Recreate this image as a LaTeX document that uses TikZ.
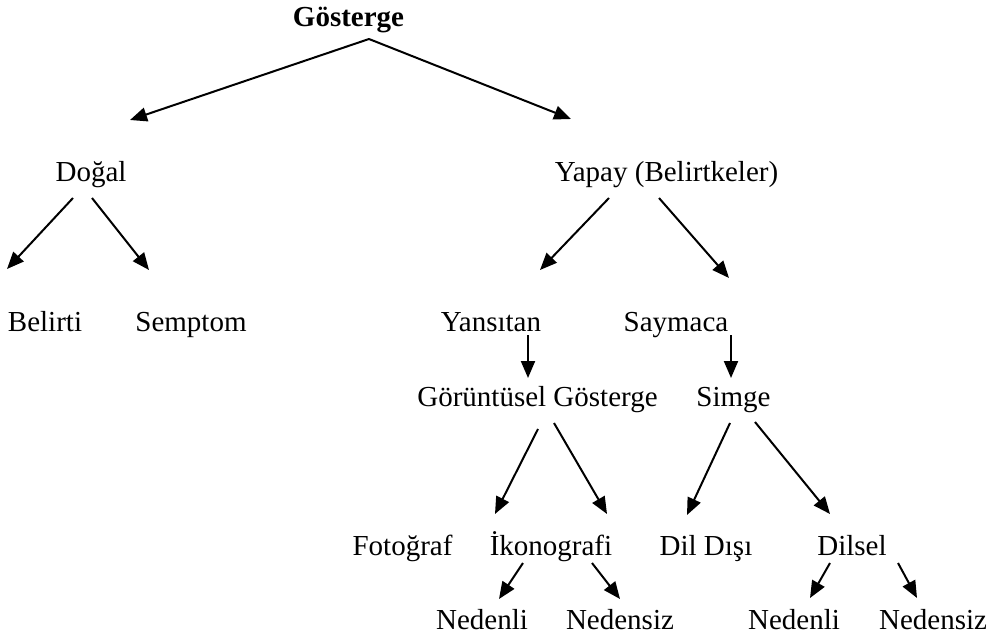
\documentclass[tikz,border=0pt]{standalone}
\usepackage{fontspec}
\setmainfont{Liberation Serif}
\usetikzlibrary{arrows.meta}
\tikzset{
  lbl/.style={anchor=base, inner sep=0pt, outer sep=0pt, font=\fontsize{29}{34}\selectfont},
  arr/.style={line width=2pt, -{Triangle[length=17pt,width=14pt]}}
}
\begin{document}
\begin{tikzpicture}[x=1pt,y=-1pt]
\useasboundingbox (0,0) rectangle (992,639);
% labels
\node[lbl, font=\fontsize{29}{34}\selectfont\bfseries] (g) at (348.5,27) {Gösterge};
\node[lbl] (dogal) at (91,182) {Doğal};
\node[lbl] (yapay) at (666.5,182) {Yapay (Belirtkeler)};
\node[lbl] (belirti) at (45,331) {Belirti};
\node[lbl] (semptom) at (191,331) {Semptom};
\node[lbl] (yansitan) at (491,331) {Yansıtan};
\node[lbl] (saymaca) at (676,331) {Saymaca};
\node[lbl] (goruntusel) at (537.5,406) {Görüntüsel Gösterge};
\node[lbl] (simge) at (733.5,406) {Simge};
\node[lbl] (fotograf) at (402.5,555) {Fotoğraf};
\node[lbl] (ikonografi) at (551,555) {İkonografi};
\node[lbl] (dildisi) at (706,555) {Dil Dışı};
\node[lbl] (dilsel) at (852,555) {Dilsel};
\node[lbl] (nedenliA) at (482,629) {Nedenli};
\node[lbl] (nedensizA) at (620,629) {Nedensiz};
\node[lbl] (nedenliB) at (794,629) {Nedenli};
\node[lbl] (nedensizB) at (933,629) {Nedensiz};
% connector ends
\coordinate (g-s) at (369,39);
\coordinate (dogal-t) at (130,120);
\coordinate (yapay-t) at (571,119);
\coordinate (dogal-s1) at (73,198);
\coordinate (dogal-s2) at (92,198);
\coordinate (belirti-t) at (7,269);
\coordinate (semptom-t) at (149,270);
\coordinate (yapay-s1) at (609,198);
\coordinate (yapay-s2) at (659,198);
\coordinate (yansitan-t) at (540,270);
\coordinate (saymaca-t) at (729,278);
\coordinate (yansitan-s) at (528,335);
\coordinate (goruntusel-t) at (528,378);
\coordinate (saymaca-s) at (731,335);
\coordinate (simge-t) at (731,378);
\coordinate (goruntusel-s1) at (538,429);
\coordinate (goruntusel-s2) at (554,423);
\coordinate (fotograf-t) at (495,514);
\coordinate (ikonografi-t) at (607,514);
\coordinate (simge-s1) at (730,423);
\coordinate (simge-s2) at (755,422);
\coordinate (dildisi-t) at (687,515);
\coordinate (dilsel-t) at (830,514);
\coordinate (ikonografi-s1) at (523,563);
\coordinate (ikonografi-s2) at (592,563);
\coordinate (nedenliA-t) at (499,599);
\coordinate (nedensizA-t) at (620,599);
\coordinate (dilsel-s1) at (830,563);
\coordinate (dilsel-s2) at (898,563);
\coordinate (nedenliB-t) at (810,598);
\coordinate (nedensizB-t) at (917,598);
% connectors
\draw[arr] (g-s) -- (dogal-t);
\draw[arr] (g-s) -- (yapay-t);
\draw[arr] (dogal-s1) -- (belirti-t);
\draw[arr] (dogal-s2) -- (semptom-t);
\draw[arr] (yapay-s1) -- (yansitan-t);
\draw[arr] (yapay-s2) -- (saymaca-t);
\draw[arr] (yansitan-s) -- (goruntusel-t);
\draw[arr] (saymaca-s) -- (simge-t);
\draw[arr] (goruntusel-s1) -- (fotograf-t);
\draw[arr] (goruntusel-s2) -- (ikonografi-t);
\draw[arr] (simge-s1) -- (dildisi-t);
\draw[arr] (simge-s2) -- (dilsel-t);
\draw[arr] (ikonografi-s1) -- (nedenliA-t);
\draw[arr] (ikonografi-s2) -- (nedensizA-t);
\draw[arr] (dilsel-s1) -- (nedenliB-t);
\draw[arr] (dilsel-s2) -- (nedensizB-t);
\end{tikzpicture}
\end{document}
